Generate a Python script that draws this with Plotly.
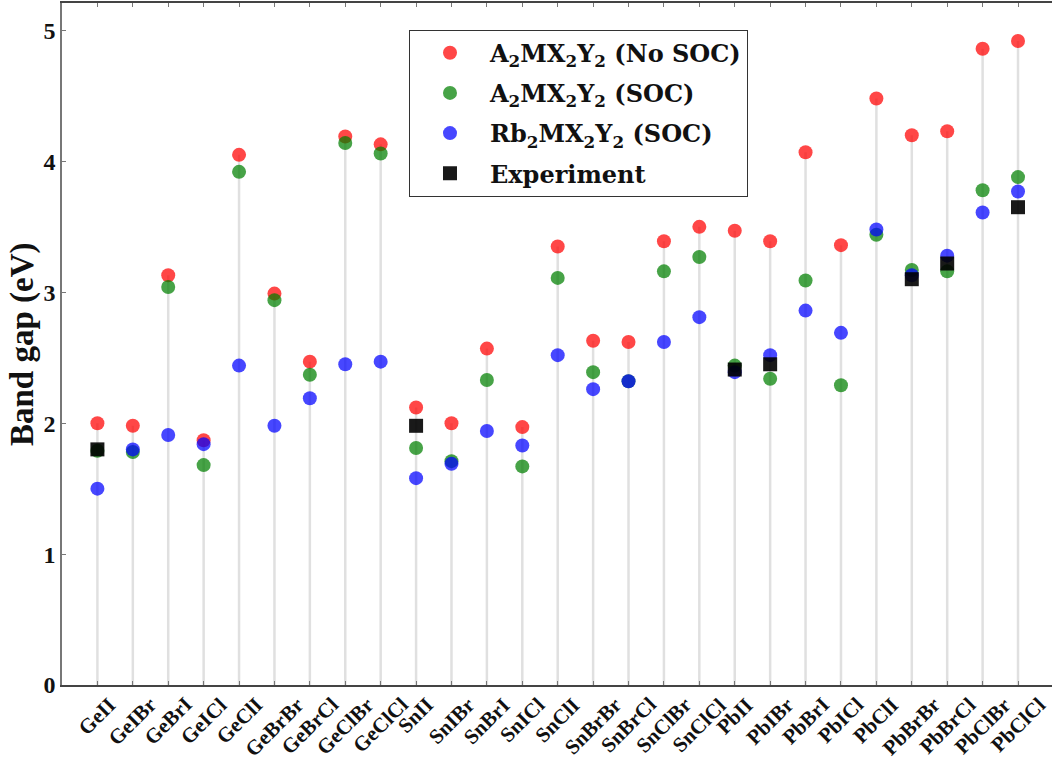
import plotly.graph_objects as go

categories = ["GeII", "GeIBr", "GeBrI", "GeICl", "GeClI", "GeBrBr", "GeBrCl", "GeClBr", "GeClCl",
              "SnII", "SnIBr", "SnBrI", "SnICl", "SnClI", "SnBrBr", "SnBrCl", "SnClBr", "SnClCl",
              "PbII", "PbIBr", "PbBrI", "PbICl", "PbClI", "PbBrBr", "PbBrCl", "PbClBr", "PbClCl"]

no_soc = [2.00, 1.98, 3.13, 1.87, 4.05, 2.99, 2.47, 4.19, 4.13,
          2.12, 2.00, 2.57, 1.97, 3.35, 2.63, 2.62, 3.39, 3.50,
          3.47, 3.39, 4.07, 3.36, 4.48, 4.20, 4.23, 4.86, 4.92]

soc = [1.79, 1.78, 3.04, 1.68, 3.92, 2.94, 2.37, 4.14, 4.06,
       1.81, 1.71, 2.33, 1.67, 3.11, 2.39, 2.32, 3.16, 3.27,
       2.44, 2.34, 3.09, 2.29, 3.44, 3.17, 3.16, 3.78, 3.88]

rb_soc = [1.50, 1.80, 1.91, 1.84, 2.44, 1.98, 2.19, 2.45, 2.47,
          1.58, 1.69, 1.94, 1.83, 2.52, 2.26, 2.32, 2.62, 2.81,
          2.39, 2.52, 2.86, 2.69, 3.48, 3.13, 3.28, 3.61, 3.77]

experiment = [1.80, None, None, None, None, None, None, None, None,
              1.98, None, None, None, None, None, None, None, None,
              2.41, 2.45, None, None, None, 3.10, 3.22, None, 3.65]

y_ticks = [0, 1, 2, 3, 4, 5]
y_title = "Band gap (eV)"

FONT = "Liberation Serif"
LFONT = "DejaVu Serif"

fig = go.Figure()

# stems from 0 to highest value of each category
sx, sy = [], []
for c, a, b, r, e in zip(categories, no_soc, soc, rb_soc, experiment):
    top = max(v for v in (a, b, r, e) if v is not None)
    sx += [c, c, None]
    sy += [0, top, None]
fig.add_trace(go.Scatter(x=sx, y=sy, mode="lines", line=dict(color="#e0e0e0", width=2.5),
                         showlegend=False, hoverinfo="skip"))

fig.add_trace(go.Scatter(x=categories, y=no_soc, mode="markers", name="A<sub>2</sub>MX<sub>2</sub>Y<sub>2</sub> (No SOC)",
                         marker=dict(color="rgba(255,0,0,0.72)", size=14, line=dict(width=0)), legendgroup="a"))
fig.add_trace(go.Scatter(x=categories, y=soc, mode="markers", name="A<sub>2</sub>MX<sub>2</sub>Y<sub>2</sub> (SOC)",
                         marker=dict(color="rgba(0,128,0,0.72)", size=14, line=dict(width=0)), legendgroup="b"))
fig.add_trace(go.Scatter(x=categories, y=rb_soc, mode="markers", name="Rb<sub>2</sub>MX<sub>2</sub>Y<sub>2</sub> (SOC)",
                         marker=dict(color="rgba(0,0,255,0.72)", size=14, line=dict(width=0)), legendgroup="c"))
fig.add_trace(go.Scatter(x=categories, y=experiment, mode="markers", name="Experiment",
                         marker=dict(color="rgba(0,0,0,0.9)", size=14, symbol="square", line=dict(width=0)),
                         legendgroup="d"))

fig.update_layout(
    width=1052, height=757,
    margin=dict(l=62, r=0, t=3, b=72),
    plot_bgcolor="white", paper_bgcolor="white",
    font=dict(family=FONT, size=20, color="#111", weight="bold"),
    showlegend=True,
    legend=dict(x=0.3505, y=0.961, xanchor="left", yanchor="top",
                bordercolor="#333", borderwidth=1, bgcolor="white",
                font=dict(family=LFONT, size=24, color="#111", weight="bold"),
                traceorder="grouped", tracegroupgap=6,
                itemwidth=70),
)

fig.update_xaxes(
    type="category", categoryorder="array", categoryarray=categories,
    range=[-1, 26.96], showgrid=False, zeroline=False, automargin=False,
    showline=True, linecolor="#444", linewidth=1.5, mirror="ticks",
    ticks="inside", ticklen=4, tickcolor="#777", tickwidth=1,
    showticklabels=False,
)
fig.update_yaxes(
    range=[0, 5.21], showgrid=False, zeroline=False, automargin=False,
    showline=True, linecolor="#777", linewidth=1.5, mirror=False,
    ticks="inside", ticklen=4, tickcolor="#777", tickwidth=1,
    tickvals=y_ticks,
    tickfont=dict(family=FONT, size=24, color="#111", weight="bold"),
)

# y-axis title
fig.add_annotation(x=0, y=0.5, xref="paper", yref="paper", text=y_title, showarrow=False,
                   textangle=-90, xanchor="center", yanchor="middle", xshift=-40,
                   font=dict(family=FONT, size=33, color="#111", weight="bold"))

# rotated category labels, centred under each tick (bounding box centred, top aligned)
for c in categories:
    fig.add_annotation(x=c, y=0, xref="x", yref="paper", text=c, showarrow=False,
                       textangle=-45, xanchor="center", yanchor="top", yshift=-5,
                       font=dict(family=FONT, size=21, color="#111", weight="bold"))

fig.write_html("out.html", config={"displayModeBar": False},
               post_script="document.body.style.margin='0';")
